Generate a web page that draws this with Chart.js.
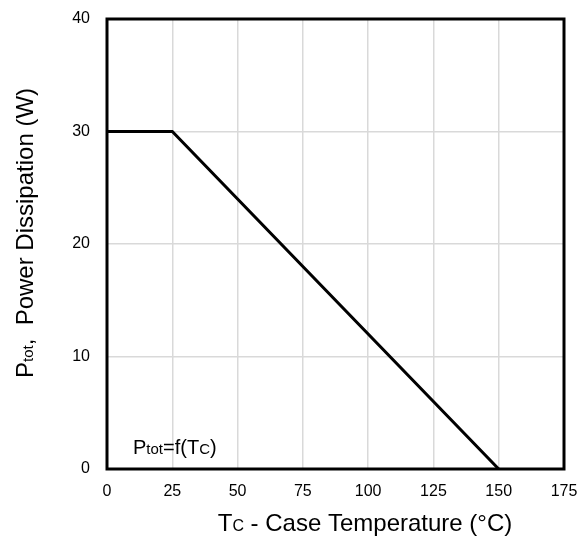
<!DOCTYPE html>
<html>
<head>
<meta charset="utf-8">
<script src="https://cdn.jsdelivr.net/npm/chart.js@4"></script>
<style>
  html, body { margin: 0; padding: 0; background: #fff; }
  #wrap { width: 580px; height: 543px; }
</style>
</head>
<body>
<div id="wrap"><canvas id="c" width="580" height="543"></canvas></div>
<script>
// Power derating curve: Ptot vs case temperature
const caseTemp = [0, 25, 150];
const powerW = [30, 30, 0];
const xTicks = [0, 25, 50, 75, 100, 125, 150, 175];
const yTicks = [0, 10, 20, 30, 40];

const FONT = '"Liberation Sans", Arial, sans-serif';

// draws a run of text pieces with differing sizes on a shared baseline
function drawRuns(ctx, runs, x, y, align) {
  let total = 0;
  runs.forEach(r => { ctx.font = r.s + 'px ' + FONT; r.w = ctx.measureText(r.t).width; total += r.w; });
  let cx = align === 'center' ? x - total / 2 : x;
  ctx.textAlign = 'left';
  ctx.textBaseline = 'alphabetic';
  runs.forEach(r => { ctx.font = r.s + 'px ' + FONT; ctx.fillText(r.t, cx, y); cx += r.w; });
}

// keep tick-label overhang from shrinking the plot area
function noOverhang(s) {
  s.paddingTop = 0; s.paddingBottom = 0; s.paddingLeft = 0; s.paddingRight = 0;
}

const decorations = {
  id: 'decorations',
  afterDraw(chart) {
    const { ctx, chartArea: a } = chart;
    ctx.save();
    // plot frame
    ctx.strokeStyle = '#000';
    ctx.lineWidth = 3;
    ctx.strokeRect(a.left, a.top, a.right - a.left, a.bottom - a.top);
    ctx.fillStyle = '#000';
    // x axis title
    drawRuns(ctx, [{ t: 'T', s: 24 }, { t: 'C', s: 16 }, { t: ' - Case Temperature (°C)', s: 24 }], 365, 531, 'center');
    // y axis title
    ctx.save();
    ctx.translate(33, 233);
    ctx.rotate(-Math.PI / 2);
    drawRuns(ctx, [{ t: 'P', s: 24 }, { t: 'tot', s: 15 }, { t: ',  Power Dissipation (W)', s: 24 }], 0, 0, 'center');
    ctx.restore();
    // curve label
    drawRuns(ctx, [{ t: 'P', s: 20 }, { t: 'tot', s: 15 }, { t: '=f(T', s: 20 }, { t: 'C', s: 15 }, { t: ')', s: 20 }], 133, 454, 'left');
    ctx.restore();
  }
};

new Chart(document.getElementById('c'), {
  type: 'line',
  data: {
    datasets: [{
      data: caseTemp.map((t, i) => ({ x: t, y: powerW[i] })),
      borderColor: '#000',
      borderWidth: 3,
      pointRadius: 0,
      tension: 0,
      fill: false
    }]
  },
  options: {
    responsive: false,
    animation: false,
    devicePixelRatio: 1,
    layout: { padding: { left: 0, top: 19, right: 16, bottom: 0 } },
    plugins: { legend: { display: false }, tooltip: { enabled: false } },
    scales: {
      x: {
        type: 'linear',
        min: xTicks[0],
        max: xTicks[xTicks.length - 1],
        afterBuildTicks: s => { s.ticks = xTicks.map(v => ({ value: v })); },
        afterFit: s => { s.height = 74; noOverhang(s); },
        grid: { color: '#d9d9d9', lineWidth: 1.5, drawTicks: false },
        border: { display: false },
        ticks: { color: '#000', font: { family: FONT, size: 16 }, padding: 13, maxRotation: 0 }
      },
      y: {
        min: yTicks[0],
        max: yTicks[yTicks.length - 1],
        afterBuildTicks: s => { s.ticks = yTicks.map(v => ({ value: v })); },
        afterFit: s => { s.width = 107; noOverhang(s); },
        grid: { color: '#d9d9d9', lineWidth: 1.5, drawTicks: false },
        border: { display: false },
        ticks: { color: '#000', font: { family: FONT, size: 16 }, padding: 17 }
      }
    }
  },
  plugins: [decorations]
});
</script>
</body>
</html>
